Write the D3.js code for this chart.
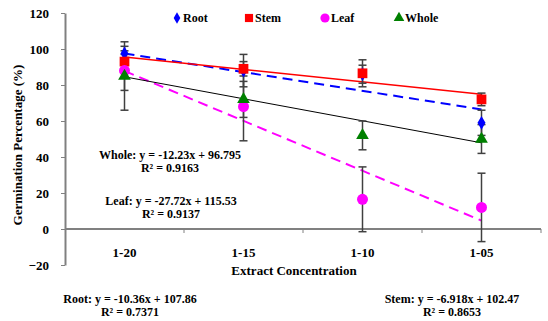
<!DOCTYPE html>
<html>
<head>
<meta charset="utf-8">
<script src="https://cdn.jsdelivr.net/npm/d3@7"></script>
<style>
  body { margin: 0; background: #fff; }
  svg text { font-family: "Liberation Serif", "Times New Roman", serif; font-weight: bold; fill: #000; }
</style>
</head>
<body>
<div id="chart"></div>
<script>
// data
const categories = ["1-20", "1-15", "1-10", "1-05"];
const yTicks = [-20, 0, 20, 40, 60, 80, 100, 120];

const rootValues = [97.5, 88, 86, 59];
const rootErrors = [4, 9, 5, 7];
const stemValues = [93, 89, 86.5, 72];
const stemErrors = [4, 4, 7.5, 3.5];
const leafValues = [88, 68, 16.5, 12];
const leafErrors = [11, 19, 18, 19];
const wholeValues = [85, 72, 52, 50];
const wholeErrors = [19, 10, 8, 8];

// trendline coefficients (slope, intercept) from the equations on the chart
const rootTrend = [-10.36, 107.86];
const stemTrend = [-6.918, 102.47];
const leafTrend = [-27.72, 115.53];
const wholeTrend = [-12.23, 96.795];

const series = [
  {name: "Root", values: rootValues, errors: rootErrors, trend: rootTrend, color: "#0000ff", line: "#0000ff", dash: "10,6", lw: 2, shape: d3.symbolDiamond, size: 55},
  {name: "Stem", values: stemValues, errors: stemErrors, trend: stemTrend, color: "#ff0000", line: "#ff0000", dash: null, lw: 1.5, shape: d3.symbolSquare, size: 95},
  {name: "Leaf", values: leafValues, errors: leafErrors, trend: leafTrend, color: "#ff00ff", line: "#ff00ff", dash: "10,6", lw: 2, shape: d3.symbolCircle, size: 95},
  {name: "Whole", values: wholeValues, errors: wholeErrors, trend: wholeTrend, color: "#008000", line: "#000000", dash: null, lw: 1, shape: d3.symbolTriangle, size: 70}
];

const width = 548, height = 321;

const svg = d3.select("#chart").append("svg")
  .attr("width", width)
  .attr("height", height);

let x = d3.scaleBand()
  .domain(categories)
  .range([65, 541])
  .paddingInner(0)
  .paddingOuter(0);

let y = d3.scaleLinear()
  .domain([-20, 120])
  .range([265, 13]);

// y axis
const yAxis = svg.append("g")
  .attr("transform", "translate(65,0)")
  .call(d3.axisLeft(y).tickValues(yTicks).tickSize(4).tickSizeOuter(0).tickPadding(12));
yAxis.select(".domain").attr("stroke", "#808080").attr("stroke-width", 2);
yAxis.selectAll(".tick line").attr("stroke", "#808080");
yAxis.selectAll(".tick text").style("font-size", "13px");

// x axis sits on y = 0
const xAxisY = y(0);
svg.append("line")
  .attr("x1", 65).attr("x2", 541)
  .attr("y1", xAxisY).attr("y2", xAxisY)
  .attr("stroke", "#808080").attr("stroke-width", 2);

svg.selectAll(".xtick")
  .data(categories)
  .enter()
  .append("line")
  .attr("class", "xtick")
  .attr("x1", d => x(d) + x.bandwidth())
  .attr("x2", d => x(d) + x.bandwidth())
  .attr("y1", xAxisY)
  .attr("y2", xAxisY + 4)
  .attr("stroke", "#808080");

svg.selectAll(".xlabel")
  .data(categories)
  .enter()
  .append("text")
  .attr("class", "xlabel")
  .attr("x", d => x(d) + x.bandwidth() / 2)
  .attr("y", 257)
  .attr("text-anchor", "middle")
  .style("font-size", "13px")
  .text(d => d);

// axis titles
svg.append("text")
  .attr("x", 294)
  .attr("y", 275)
  .attr("text-anchor", "middle")
  .style("font-size", "13px")
  .text("Extract Concentration");

svg.append("text")
  .attr("transform", "translate(22,145) rotate(-90)")
  .attr("text-anchor", "middle")
  .style("font-size", "13px")
  .text("Germination Percentage (%)");

const cx = i => x(categories[i]) + x.bandwidth() / 2;

// trend lines
series.forEach(s => {
  const x0 = 1, x1 = categories.length;
  svg.append("line")
    .attr("x1", cx(0))
    .attr("x2", cx(categories.length - 1))
    .attr("y1", y(s.trend[0] * x0 + s.trend[1]))
    .attr("y2", y(s.trend[0] * x1 + s.trend[1]))
    .attr("stroke", s.line)
    .attr("stroke-width", s.lw)
    .attr("stroke-dasharray", s.dash);
});

// error bars
series.forEach(s => {
  const g = svg.append("g");
  s.values.forEach((v, i) => {
    const lo = v - s.errors[i], hi = v + s.errors[i];
    g.append("line")
      .attr("x1", cx(i)).attr("x2", cx(i))
      .attr("y1", y(lo)).attr("y2", y(hi))
      .attr("stroke", "#404040").attr("stroke-width", 1.5);
    [lo, hi].forEach(e => {
      g.append("line")
        .attr("x1", cx(i) - 4).attr("x2", cx(i) + 4)
        .attr("y1", y(e)).attr("y2", y(e))
        .attr("stroke", "#404040").attr("stroke-width", 1.5);
    });
  });
});

// markers
series.forEach(s => {
  svg.selectAll(".m-" + s.name)
    .data(s.values)
    .enter()
    .append("path")
    .attr("d", d3.symbol().type(s.shape).size(s.size))
    .attr("transform", (d, i) => "translate(" + cx(i) + "," + y(d) + ")")
    .attr("fill", s.color);
});

// legend
const legendX = [177, 249, 325, 399];
series.forEach((s, i) => {
  svg.append("path")
    .attr("d", d3.symbol().type(s.shape).size(s.size * 0.7))
    .attr("transform", "translate(" + legendX[i] + ",18)")
    .attr("fill", s.color);
  svg.append("text")
    .attr("x", legendX[i] + 6)
    .attr("y", 22)
    .style("font-size", "12px")
    .text(s.name);
});

// trendline equations
const equations = [
  {lines: ["Whole: y = -12.23x + 96.795", "R\u00b2 = 0.9163"], x: 170, y: 159},
  {lines: ["Leaf: y = -27.72x + 115.53", "R\u00b2 = 0.9137"], x: 171, y: 205},
  {lines: ["Root: y = -10.36x + 107.86", "R\u00b2 = 0.7371"], x: 130, y: 303},
  {lines: ["Stem: y = -6.918x + 102.47", "R\u00b2 = 0.8653"], x: 452, y: 303}
];
equations.forEach(eq => {
  eq.lines.forEach((t, k) => {
    svg.append("text")
      .attr("x", eq.x)
      .attr("y", eq.y + k * 13)
      .attr("text-anchor", "middle")
      .style("font-size", "12px")
      .text(t);
  });
});
</script>
</body>
</html>
